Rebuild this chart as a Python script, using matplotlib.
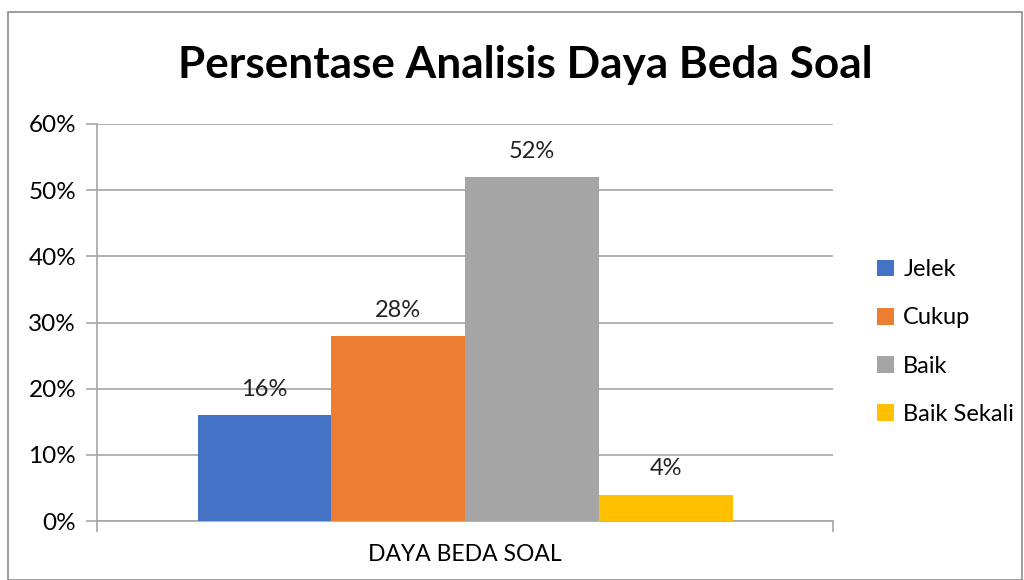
import matplotlib
matplotlib.use("Agg")
import matplotlib.pyplot as plt
from matplotlib.patches import Rectangle
from matplotlib.ticker import FuncFormatter

categories = ["DAYA BEDA SOAL"]
series = ["Jelek", "Cukup", "Baik", "Baik Sekali"]
values = [16, 28, 52, 4]
labels = ["16%", "28%", "52%", "4%"]
colors = ["#4472C4", "#ED7D31", "#A5A5A5", "#FFC000"]
yticks = [0, 10, 20, 30, 40, 50, 60]

plt.rcParams['font.family'] = ['Lato', 'DejaVu Sans']

W, H = 1024, 580
fig = plt.figure(figsize=(W / 100, H / 100), dpi=100)
fig.patches.append(Rectangle((8 / W, 0), (1022 - 8) / W, 1 - 12 / H, transform=fig.transFigure,
                             fill=False, edgecolor="#8c8c8c", linewidth=1.2))

x0, x1, y0, y1 = 97, 833, 124, 521
ax = fig.add_axes([x0 / W, 1 - y1 / H, (x1 - x0) / W, (y1 - y0) / H])
bw = 133.75 / (x1 - x0)
offsets = [-1.5, -0.5, 0.5, 1.5]
for i, (s, v, lab, c) in enumerate(zip(series, values, labels, colors)):
    x = offsets[i] * bw
    ax.bar(x, v, width=bw, color=c, label=s, zorder=3)
    ax.annotate(lab, (x, v), xytext=(0, 18.5), textcoords="offset points",
                ha="center", va="center", fontsize=17, color="#222222")

ax.set_xlim(-0.5, 0.5)
ax.set_ylim(0, 60)
ax.set_yticks(yticks)
ax.yaxis.set_major_formatter(FuncFormatter(lambda v, p: f"{int(v)}%"))
ax.set_xticks([-0.5, 0.5])
ax.set_xticklabels(["", ""])
ax.tick_params(axis="x", direction="out", length=8, color="#a6a6a6", width=1.2)
ax.tick_params(axis="y", direction="out", length=8, color="#a6a6a6", width=1.2,
               labelsize=17.5, pad=7)
ax.text(0, -0.085, categories[0], transform=ax.get_xaxis_transform(), ha="center", va="center",
        fontsize=16.5)
ax.grid(axis="y", color="#a6a6a6", linewidth=1.2, zorder=0)
for sp in ["top", "right"]:
    ax.spines[sp].set_visible(False)
for sp in ["left", "bottom"]:
    ax.spines[sp].set_color("#a6a6a6")
    ax.spines[sp].set_linewidth(1.2)

fig.text(525 / W, 1 - 65 / H, "Persentase Analisis Daya Beda Soal", ha="center", va="center",
         fontsize=31.8, fontweight="bold")

leg = fig.legend(loc="upper left", bbox_to_anchor=(856 / W, 1 - 238 / H), frameon=False,
                 fontsize=17, handlelength=0.72, handleheight=0.72, handletextpad=0.38,
                 labelspacing=1.15)

fig.savefig("out.png", dpi=100)
